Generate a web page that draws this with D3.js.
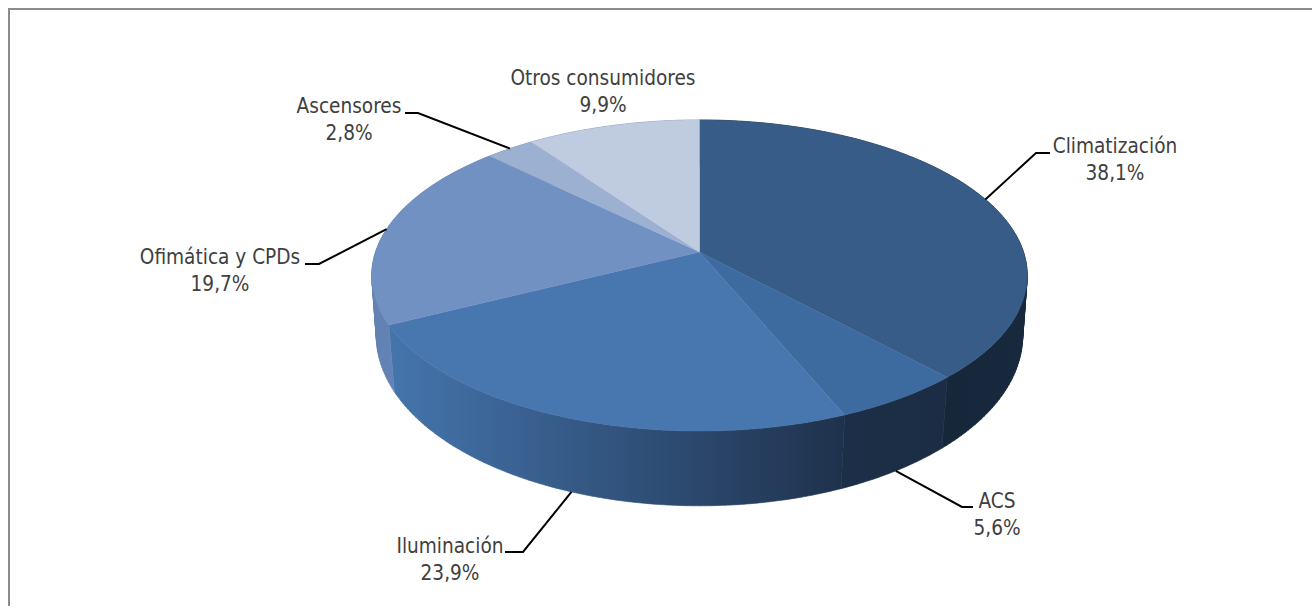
<!DOCTYPE html>
<html><head><meta charset="utf-8">
<style>html,body{margin:0;padding:0;background:#fff;overflow:hidden}svg{display:block}</style>
<script src="https://cdn.jsdelivr.net/npm/d3@7/dist/d3.min.js"></script>
</head><body><svg id="c" width="1312" height="610"></svg>
<script>
// ---- data
const categories = ["Climatización","ACS","Iluminación","Ofimática y CPDs","Ascensores","Otros consumidores"];
const values = [38.1,5.6,23.9,19.7,2.8,9.9];
const valueLabels = ["38,1%","5,6%","23,9%","19,7%","2,8%","9,9%"];
const topColors = ["#375c87","#3d6a9f","#4877b0","#7191c2","#9cb0d2","#bfcbdf"];
const wallFrom = ["#16273a","#1b2c44","#1f324d","#6a87b8","#6a87b8","#6a87b8"];
const wallTo = ["#18293e","#1d2f48","#4474ac","#6282b4","#6a87b8","#6a87b8"];
// ---- layout (separate from data)
const labelPos = [[1115,146],[997,501],[450,546],[220,257],[349,106],[603,78]];
const elbows = [[[1050,153],[1036,153]],[[973,507],[962,507]],[[505,552],[523,552]],[[305,264],[319,264]],[[405,113],[418,113]],null];
const leaderOnWall = [false,true,true,false,false,false];
const lineH = 27, fontSize = 20.6;

const svg = d3.select("#c");
const defs = svg.append("defs");
svg.append("path").attr("d","M1312,9H9V606").attr("fill","none").attr("stroke","#8c8c8c").attr("stroke-width",2);

// perspective mapping of the unit disc onto the top and bottom faces
const cx = 699.5;
const topFace = {y0:252,A:152,B:324,k:-0.151};
const botFace = {y0:312,A:166.7,B:320,k:-0.14};
function project(f,a){ // a = clockwise angle from 12 o'clock
  const u=Math.sin(a), v=-Math.cos(a), d=1+f.k*v;
  return [cx+f.B*u/d, f.y0+f.A*v/d];
}
const arcs = d3.pie().sort(null).value(d=>d)(values);
const line = d3.line();
const deg = Math.PI/180;

// side wall: one path per slice, sweeping top-to-bottom quads along the angle
const walls = arcs.map((s,i)=>{
  const n = Math.max(2,Math.ceil((s.endAngle-s.startAngle)/deg));
  const as = d3.range(n+1).map(j=>s.startAngle+(s.endAngle-s.startAngle)*j/n);
  let d="";
  for(let j=0;j<n;j++){
    let q=[project(topFace,as[j]),project(topFace,as[j+1]),project(botFace,as[j+1]),project(botFace,as[j])];
    // keep a consistent winding so overlapping quads never cancel
    if(d3.polygonArea(q)<0) q=q.reverse();
    d+=line(q)+"Z";
  }
  const xs=as.map(a=>project(botFace,a)[0]);
  return {d,i,x0:d3.min(xs),x1:d3.max(xs)};
});
walls.forEach(w=>{
  const g=defs.append("linearGradient").attr("id","wall"+w.i).attr("gradientUnits","userSpaceOnUse")
    .attr("x1",w.i===0?945:w.x1).attr("x2",w.i===0?1028:w.x0).attr("y1",0).attr("y2",0);
  g.append("stop").attr("offset",0).attr("stop-color",wallFrom[w.i]);
  g.append("stop").attr("offset",1).attr("stop-color",wallTo[w.i]);
});
svg.append("g").selectAll("path").data(walls).join("path")
  .attr("d",w=>w.d).attr("fill-rule","nonzero")
  .attr("fill",w=>`url(#wall${w.i})`)
  .attr("stroke",w=>`url(#wall${w.i})`).attr("stroke-width",0.6);

// top face
svg.append("g").selectAll("path").data(arcs).join("path")
  .attr("d",s=>{
    const n=Math.ceil((s.endAngle-s.startAngle)/deg);
    const pts=[[cx,topFace.y0]];
    for(let j=0;j<=n;j++) pts.push(project(topFace,s.startAngle+(s.endAngle-s.startAngle)*j/n));
    return line(pts)+"Z";
  })
  .attr("fill",(s,i)=>topColors[i]).attr("stroke",(s,i)=>topColors[i]).attr("stroke-width",0.4);

// leaders
svg.append("g").selectAll("path").data(arcs.filter((s,i)=>elbows[i])).join("path")
  .attr("d",s=>{
    const mid=(s.startAngle+s.endAngle)/2;
    return line([...elbows[s.index],project(leaderOnWall[s.index]?botFace:topFace,mid)]);
  })
  .attr("fill","none").attr("stroke","#000").attr("stroke-width",2);

// labels
const lab = svg.append("g").attr("font-family","'DejaVu Sans Condensed','DejaVu Sans',sans-serif").attr("font-stretch","condensed").attr("font-size",fontSize).attr("fill","#404040").attr("text-anchor","middle");
categories.forEach((c,i)=>{
  lab.append("text").attr("x",labelPos[i][0]).attr("y",labelPos[i][1]+7).text(c);
  lab.append("text").attr("x",labelPos[i][0]).attr("y",labelPos[i][1]+7+lineH).text(valueLabels[i]);
});
</script></body></html>
